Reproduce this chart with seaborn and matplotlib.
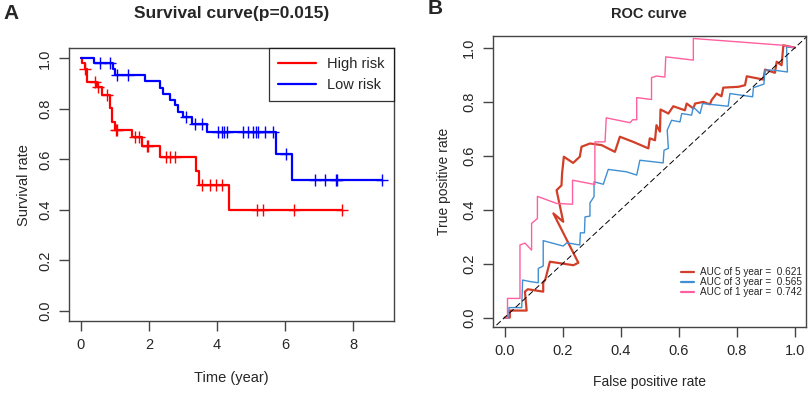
import numpy as np
import pandas as pd
import matplotlib
matplotlib.use("Agg")
import matplotlib.pyplot as plt
import seaborn as sns

# Curva de supervivencia (tiempos de evento y proporción tras cada paso)
high_t = [0, 0.02, 0.12, 0.19, 0.46, 0.61, 0.85, 0.90, 1.00, 1.49, 1.78, 2.32, 3.38, 3.48, 4.36, 7.66]
high_s = [1.0, 0.983, 0.956, 0.907, 0.885, 0.855, 0.802, 0.749, 0.716, 0.690, 0.653, 0.610, 0.555, 0.498, 0.400, 0.400]
high_cens = [0.12, 0.41, 0.49, 0.75, 1.02, 1.07, 1.59, 1.71, 1.93, 1.98, 2.50, 2.61, 2.76,
             3.55, 3.79, 3.97, 4.13, 5.16, 5.34, 6.26, 7.66]

low_t = [0, 0.38, 0.95, 1.00, 1.88, 2.32, 2.42, 2.62, 2.76, 2.86, 2.99, 3.25, 3.69, 5.73, 6.19, 8.85]
low_s = [1.0, 0.980, 0.956, 0.934, 0.910, 0.884, 0.859, 0.837, 0.815, 0.789, 0.766, 0.740, 0.709, 0.620, 0.518, 0.518]
low_cens = [0.56, 0.85, 1.05, 1.39, 3.10, 3.35, 3.55, 4.04, 4.13, 4.20, 4.28, 4.77, 4.92,
            5.06, 5.14, 5.21, 5.41, 5.63, 6.02, 6.88, 7.17, 7.49, 7.53, 8.85]

# Curvas ROC
roc5_x = [0, 0.018, 0.018, 0.076, 0.070, 0.080, 0.133, 0.133, 0.140, 0.156, 0.237, 0.254, 0.168, 0.202,
          0.179, 0.196, 0.198, 0.204, 0.236, 0.259, 0.265, 0.294, 0.334, 0.380, 0.397, 0.443, 0.495, 0.500,
          0.518, 0.523, 0.535, 0.537, 0.564, 0.581, 0.621, 0.627, 0.650, 0.656, 0.684, 0.707, 0.713, 0.730,
          0.747, 0.753, 0.805, 0.828, 0.834, 0.891, 0.897, 0.931, 0.937, 0.954, 0.960, 1.0]
roc5_y = [0, 0, 0.026, 0.026, 0.096, 0.105, 0.096, 0.130, 0.140, 0.207, 0.194, 0.203, 0.386, 0.355,
          0.472, 0.490, 0.534, 0.596, 0.573, 0.596, 0.633, 0.645, 0.639, 0.614, 0.670, 0.651, 0.627, 0.664,
          0.657, 0.713, 0.689, 0.771, 0.756, 0.783, 0.768, 0.793, 0.775, 0.793, 0.799, 0.790, 0.806, 0.830,
          0.820, 0.852, 0.855, 0.861, 0.894, 0.882, 0.919, 0.907, 0.948, 0.935, 1.009, 1.0]

roc3_x = [0, 0.015, 0.015, 0.059, 0.062, 0.090, 0.116, 0.116, 0.133, 0.133, 0.202, 0.214, 0.259, 0.261,
          0.275, 0.277, 0.294, 0.294, 0.308, 0.308, 0.340, 0.357, 0.420, 0.455, 0.466, 0.546, 0.549, 0.564,
          0.560, 0.575, 0.604, 0.610, 0.644, 0.650, 0.673, 0.682, 0.770, 0.776, 0.854, 0.857, 0.893, 0.897,
          0.925, 0.974, 0.971, 1.0]
roc3_y = [0, 0, 0.037, 0.037, 0.139, 0.133, 0.129, 0.182, 0.191, 0.285, 0.265, 0.277, 0.269, 0.314,
          0.314, 0.373, 0.376, 0.425, 0.448, 0.503, 0.494, 0.549, 0.540, 0.528, 0.583, 0.573, 0.620, 0.627,
          0.694, 0.731, 0.725, 0.756, 0.750, 0.780, 0.756, 0.793, 0.783, 0.830, 0.818, 0.852, 0.865, 0.917,
          0.917, 0.910, 1.003, 1.0]

roc1_x = [0, 0.010, 0.010, 0.053, 0.053, 0.070, 0.093, 0.093, 0.113, 0.113, 0.179, 0.234, 0.234, 0.311,
          0.311, 0.346, 0.350, 0.432, 0.441, 0.455, 0.455, 0.506, 0.506, 0.523, 0.552, 0.555, 0.650, 0.650,
          0.959, 1.0]
roc1_y = [0, 0, 0.071, 0.071, 0.269, 0.276, 0.250, 0.349, 0.367, 0.449, 0.423, 0.420, 0.509, 0.493,
          0.651, 0.651, 0.740, 0.722, 0.733, 0.733, 0.815, 0.808, 0.889, 0.895, 0.891, 0.966, 0.954, 1.034,
          1.009, 1.0]

roc_labels = ["AUC of 5 year =  0.621", "AUC of 3 year =  0.565", "AUC of 1 year =  0.742"]
roc_colors = ["#D23F29", "#3F8FD2", "#FF5F9E"]

sns.set_style("white")
plt.rcParams["font.family"] = ["Liberation Sans", "DejaVu Sans"]
frame = "#444444"

fig = plt.figure(figsize=(8.09, 3.93), dpi=100)
ax1 = fig.add_axes([0.0853, 0.1832, 0.4014, 0.694])
ax2 = fig.add_axes([0.609, 0.1672, 0.3873, 0.741])

# Panel A: Kaplan-Meier
def censor_y(t_steps, s_steps, cens):
    idx = np.searchsorted(t_steps, cens, side="right") - 1
    return np.array(s_steps)[idx]

for t, s, c, col, lab in [(high_t, high_s, high_cens, "#FF0000", "High risk"),
                          (low_t, low_s, low_cens, "#0000FF", "Low risk")]:
    df = pd.DataFrame({"time": t, "surv": s})
    sns.lineplot(data=df, x="time", y="surv", drawstyle="steps-post", color=col,
                 linewidth=1.6, ax=ax1, label=lab, sort=False, estimator=None, errorbar=None)
    ax1.plot(c, censor_y(t, s, c), linestyle="none", marker="+", markersize=9,
             markeredgewidth=1.0, color=col)

ax1.set_xlim(-0.352, 9.19)
ax1.set_ylim(-0.04, 1.04)
ax1.set_xticks([0, 2, 4, 6, 8])
ax1.set_yticks([0, 0.2, 0.4, 0.6, 0.8, 1.0])
ax1.set_yticklabels(["0.0", "0.2", "0.4", "0.6", "0.8", "1.0"], rotation=90, va="center")
ax1.set_xlabel("Time (year)", fontsize=10.5, labelpad=14)
ax1.set_ylabel("Survival rate", fontsize=10.5, labelpad=5)
ax1.set_title("Survival curve(p=0.015)", fontsize=12.5, fontweight="bold", pad=22)
leg = ax1.legend(loc="upper right", fontsize=10.5, frameon=True, fancybox=False,
                 borderaxespad=0, handlelength=2.6, borderpad=0.6, labelspacing=0.5)
leg.get_frame().set_edgecolor("black")
leg.get_frame().set_linewidth(0.9)
for h in leg.get_lines():
    h.set_linewidth(1.6)

# Panel B: ROC
for xs, ys, col, lab in [(roc5_x, roc5_y, roc_colors[0], roc_labels[0]),
                         (roc3_x, roc3_y, roc_colors[1], roc_labels[1]),
                         (roc1_x, roc1_y, roc_colors[2], roc_labels[2])]:
    df = pd.DataFrame({"fpr": xs, "tpr": ys})
    sns.lineplot(data=df, x="fpr", y="tpr", sort=False, estimator=None, errorbar=None, color=col,
                 linewidth=1.6 if col == roc_colors[0] else 1.0, ax=ax2, label=lab)
ax2.plot([-0.05, 1.05], [-0.05, 1.05], linestyle=(0, (6, 3)), color="black", linewidth=0.7)
ax2.set_xlim(-0.041, 1.038)
ax2.set_ylim(-0.036, 1.043)
ax2.set_xticks([0, 0.2, 0.4, 0.6, 0.8, 1.0])
ax2.set_xticklabels(["0.0", "0.2", "0.4", "0.6", "0.8", "1.0"])
ax2.set_yticks([0, 0.2, 0.4, 0.6, 0.8, 1.0])
ax2.set_yticklabels(["0.0", "0.2", "0.4", "0.6", "0.8", "1.0"], rotation=90, va="center")
ax2.set_xlabel("False positive rate", fontsize=10, labelpad=12)
ax2.set_ylabel("True positive rate", fontsize=10, labelpad=8)
ax2.set_title("ROC curve", fontsize=10.5, fontweight="bold", pad=13)
leg2 = ax2.legend(loc="lower right", bbox_to_anchor=(1.0, 0.09), fontsize=7.2, frameon=False,
                  handlelength=1.3, labelspacing=0.0, handletextpad=0.6, borderaxespad=0)
for h in leg2.get_lines():
    h.set_linewidth(1.6)

for ax in (ax1, ax2):
    for sp in ax.spines.values():
        sp.set_visible(True)
        sp.set_color(frame)
        sp.set_linewidth(1.0)
    ax.tick_params(axis="both", direction="out", length=7, width=1.0, color=frame,
                   labelsize=10.5, pad=5, bottom=True, left=True)

fig.text(0.004, 0.965, "A", fontsize=15, fontweight="bold", va="center")
fig.text(0.529, 0.978, "B", fontsize=15, fontweight="bold", va="center")

fig.savefig("out.png", dpi=100)
